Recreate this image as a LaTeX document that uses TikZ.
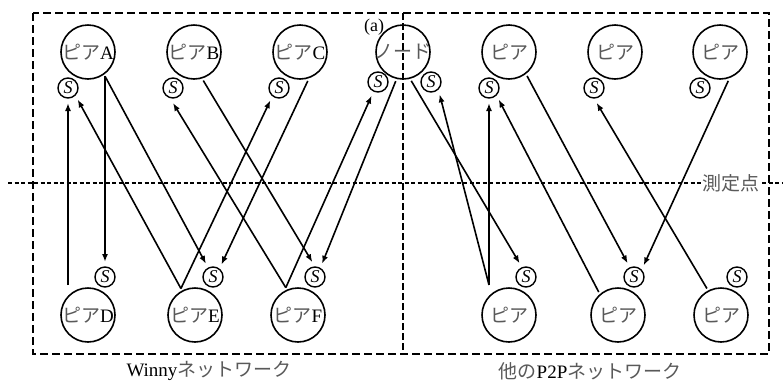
\documentclass[tikz,border=0pt]{standalone}
\usepackage{fontspec}
\setmainfont{Liberation Serif}
\newfontfamily\jpFont{Noto Sans CJK JP}
\usetikzlibrary{arrows.meta}
\colorlet{lineColor}{black}
\colorlet{kanaColor}{black!65}
\newcommand{\jpText}[1]{{\jpFont\color{kanaColor}#1}}
\newcommand{\peerLabel}[1]{\makebox[0pt]{#1}}
\tikzstyle{peerNode}=[circle,draw=lineColor,line width=1.6bp,minimum size=54bp,inner sep=0pt,outer sep=3bp]
\tikzstyle{shareNode}=[circle,draw=lineColor,line width=1.4bp,minimum size=20bp,inner sep=0pt,outer sep=5bp,font=\fontsize{18bp}{18bp}\selectfont\itshape]
\tikzstyle{flowArrow}=[lineColor,line width=1.6bp,-{Latex[length=8bp,width=6bp]}]
\tikzstyle{netBox}=[line width=2bp,dash pattern=on 8bp off 4bp]
\tikzstyle{measureLine}=[line width=1.8bp,dash pattern=on 4bp off 2.5bp]
\tikzstyle{splitLine}=[line width=2bp,dash pattern=on 7bp off 3bp]

\begin{document}
\begin{tikzpicture}[x=1bp,y=-1bp,font=\fontsize{19bp}{22bp}\selectfont]
\useasboundingbox (0,0) rectangle (783,381);
        % networks and measuring point
        \draw [netBox] (33,13) rectangle (769,354);
        \draw [measureLine] (8,183) -- (783,183);
        \node[fill=white,inner sep=1bp] (measureLabel) at (731,183) {\jpText{測定点}};
        % peers
        \foreach \name/\x/\tag in {peerA/88/A,peerB/194/B,peerC/300/C} {
                \node[peerNode] (\name) at (\x,52) {\peerLabel{\jpText{ピア}\tag}};
        }
        \foreach \name/\x/\tag in {peerD/88/D,peerE/195/E,peerF/298/F} {
                \node[peerNode] (\name) at (\x,315) {\peerLabel{\jpText{ピア}\tag}};
        }
        \foreach \name/\x in {peerG/509,peerH/615,peerI/720} {
                \node[peerNode] (\name) at (\x,52) {\peerLabel{\jpText{ピア}}};
        }
        \foreach \name/\x in {peerJ/509,peerK/618,peerL/721} {
                \node[peerNode] (\name) at (\x,315) {\peerLabel{\jpText{ピア}}};
        }
        \node[peerNode] (nodeX) at (403,52) {\peerLabel{\jpText{ノード}}};
        \node[font=\fontsize{18bp}{20bp}\selectfont] (markA) at (374,27) {(a)};
        \draw [splitLine] (403,13) -- (403,354);
        % shared files
        \foreach \name/\x/\y in {shareA/68/88,shareB/173/88,shareC/279/88,
                shareXl/378/82,shareXr/431/82,shareG/489/88,shareH/594/88,shareI/700/88,
                shareD/105/277,shareE/213/277,shareF/315/277,
                shareJ/526/277,shareK/634/277,shareL/737/277} {
                \node[shareNode] (\name) at (\x,\y) {S};
        }
        % Winny side
        \draw [flowArrow] (shareA |- peerD.north) -- (shareA.south);
        \draw [flowArrow] (shareD |- peerA.-52) -- (shareD.north);
        \draw [flowArrow] (peerA.-55) -- (shareE.118);
        \draw [flowArrow] (peerE.118) -- (shareA.-50);
        \draw [flowArrow] (peerE.118) -- (shareC.-125);
        \draw [flowArrow] (peerB.-72) -- (shareF.100);
        \draw [flowArrow] (peerF.114) -- (shareB.south);
        \draw [flowArrow] (peerF.114) -- (shareXl.-115);
        \draw [flowArrow] (peerC.-75) -- (shareE.56);
        \draw [flowArrow] (nodeX.-104) -- (shareF.62);
        % other P2P side
        \draw [flowArrow] (nodeX.-74) -- (shareJ.115);
        \draw [flowArrow] (shareG |- peerJ.north) -- (shareXr.-55);
        \draw [flowArrow] (shareG |- peerJ.north) -- (shareG.south);
        \draw [flowArrow] (peerK.130) -- (shareG.-50);
        \draw [flowArrow] (peerG.-53) -- (shareK.115);
        \draw [flowArrow] (peerI.-74) -- (shareK.50);
        \draw [flowArrow] (peerL.118) -- (shareH.-80);
        % captions
        \node (winnyLabel) at (209,371) {Winny\jpText{ネットワーク}};
        \node (otherLabel) at (590,371) {\jpText{他の}P2P\jpText{ネットワーク}};
\end{tikzpicture}
\end{document}
